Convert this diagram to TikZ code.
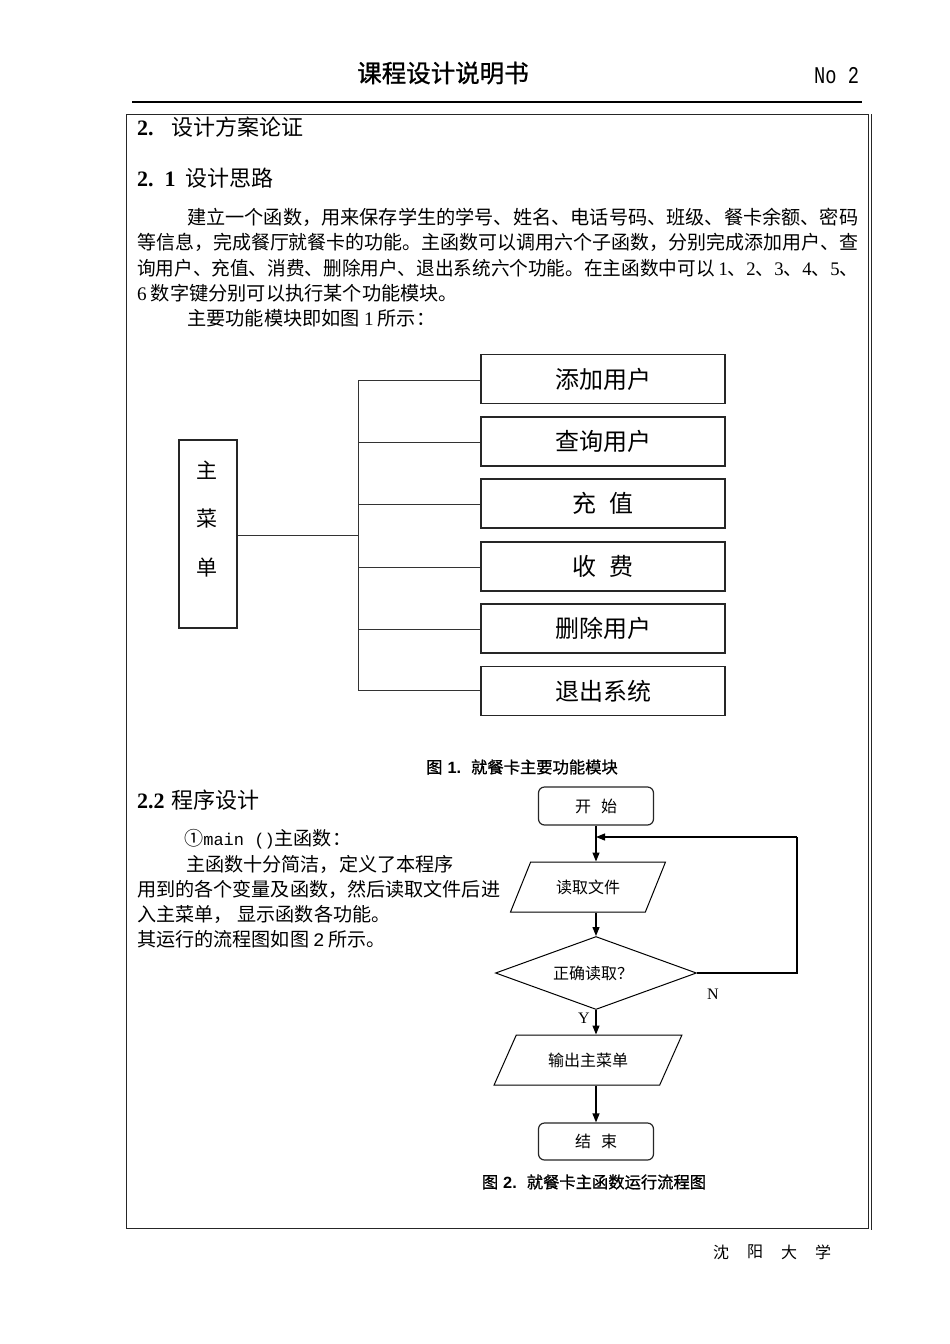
\documentclass[tikz,border=0pt]{standalone}
\usepackage{fontspec}
\usepackage{graphicx}
\setmainfont{Noto Sans CJK SC}
\newfontfamily\tms{Liberation Serif}
\newfontfamily\hel{Liberation Sans}
\newfontfamily\mon{Liberation Mono}
\newfontfamily\cjkb[FakeBold=1]{Noto Sans CJK SC}
\usetikzlibrary{shapes.geometric,arrows.meta}
\newcommand\myfs[1]{\fontsize{#1}{#1}\selectfont}
\newcommand\fitline[2]{\resizebox{#1}{\height}{#2}}
\tikzset{
  txt/.style={anchor=west,inner sep=0pt,font=\myfs{19.2}},
  txtb/.style={anchor=west,inner sep=0pt,font=\myfs{19.1}},
  head/.style={anchor=west,inner sep=0pt,font=\myfs{22}},
  modbox/.style={draw=black!85,line width=1.1pt,minimum width=244pt,minimum height=49pt,inner sep=0pt,font=\myfs{24}},
  tree/.style={draw=black!80,line width=1pt},
  term/.style={draw=black!85,line width=1.2pt,rounded corners=6pt,minimum width=115pt,minimum height=38pt,inner sep=0pt,font=\myfs{16}},
  io/.style={draw=black,line width=1pt,trapezium,trapezium stretches=true,minimum height=50pt,inner sep=0pt,font=\myfs{16}},
  arr/.style={draw=black,line width=1.2pt,-{Triangle[length=9pt,width=7pt]}},
  figcap/.style={inner sep=0pt,font=\myfs{16.3}\cjkb},
  foot/.style={inner sep=0pt,font=\myfs{16}},
}
\begin{document}
\begin{tikzpicture}[x=1pt,y=-1pt]
\path[fill=white] (0,0) rectangle (950,1344);
\useasboundingbox (0,0) rectangle (950,1344);
% header
\node[inner sep=0pt,font=\myfs{24.5}\cjkb] (title) at (443,73) {课程设计说明书};
\node[anchor=west,inner sep=0pt,font=\myfs{24}\mon] (no) at (814,76) {\scalebox{0.78}[1]{No 2}};
\draw[line width=1.5pt] (132,102) -- (862,102);
% frame
\draw[line width=1pt,black!85] (126,114) rectangle (868,1228);
\draw[line width=1pt,black!85] (871,114) -- (871,1230);
% headings
\node[head] (h1) at (137,127) {{\tms\bfseries 2.}\hspace{17.5pt}设计方案论证};
\node[head] (h2) at (137,178) {{\tms\bfseries 2.}\hspace{11pt}{\tms\bfseries 1}\hspace{9.5pt}设计思路};
% paragraph
\node[txt] (p1) at (187,217) {\fitline{671pt}{建立一个函数，用来保存学生的学号、姓名、电话号码、班级、餐卡余额、密码}};
\node[txt] (p2) at (137,242) {\fitline{721pt}{等信息，完成餐厅就餐卡的功能。主函数可以调用六个子函数，分别完成添加用户、查}};
\node[txt] (p3) at (137,268) {\fitline{721pt}{询用户、充值、消费、删除用户、退出系统六个功能。在主函数中可以\hspace{4pt}{\tms 1}、{\tms 2}、{\tms 3}、{\tms 4}、{\tms 5}、}};
\node[txt] (p4) at (137,293) {{\tms 6}\hspace{4pt}数字键分别可以执行某个功能模块。};
\node[txt] (p5) at (187,318) {主要功能模块即如图\hspace{4pt}{\tms 1}\hspace{4pt}所示：};
% tree diagram
\node[draw=black!85,line width=1.1pt,minimum width=58pt,minimum height=188pt,inner sep=0pt] (main) at (208,534) {};
\node[inner sep=0pt,font=\myfs{21}] (m1) at (207,470) {主};
\node[inner sep=0pt,font=\myfs{21}] (m2) at (207,519) {菜};
\node[inner sep=0pt,font=\myfs{21}] (m3) at (207,568) {单};
\node[modbox] (b1) at (603,379) {添加用户};
\node[modbox] (b2) at (603,441.5) {查询用户};
\node[modbox] (b3) at (603,503.5) {充\hspace{14pt}值};
\node[modbox] (b4) at (603,566.5) {收\hspace{14pt}费};
\node[modbox] (b5) at (603,628.5) {删除用户};
\node[modbox] (b6) at (603,691) {退出系统};
\coordinate (bus) at (358,535);
\draw[tree] (main.east |- bus) -- (bus);
\draw[tree] (358,380) -- (358,690);
\foreach \b/\yy in {b1/380,b2/442,b3/504,b4/567,b5/629,b6/690}{
  \draw[tree] (358,\yy) -- (\b.west |- 0,\yy);
}
\node[figcap] (c1) at (522,767) {图\hspace{5pt}{\hel\bfseries 1.}\hspace{10pt}就餐卡主要功能模块};
% section 2.2
\node[head] (h3) at (137,800) {{\tms\bfseries 2.2}\hspace{6.5pt}程序设计};
\node[txtb] (q1) at (184,839) {①{\myfs{17}\mon main ()}主函数：};
\node[txtb] (q2) at (186,864) {主函数十分简洁，定义了本程序};
\node[txtb] (q3) at (137,889) {用到的各个变量及函数，然后读取文件后进};
\node[txtb] (q4) at (137,914) {入主菜单，\hspace{5pt}显示函数各功能。};
\node[txtb] (q5) at (137,939) {其运行的流程图如图\hspace{4pt}{\mon 2}\hspace{4pt}所示。};
% flowchart
\node[term] (start) at (596,806) {开\hspace{10pt}始};
\node[io,trapezium left angle=53,trapezium right angle=127,minimum width=156pt] (read) at (588,887) {读取文件};
\node[draw=black,line width=1pt,diamond,aspect=2.75,minimum width=201pt,minimum height=73pt,inner sep=0pt,font=\myfs{16}] (dec) at (596,973) {\hspace{-6pt}正确读取？};
\node[io,trapezium left angle=50,trapezium right angle=130,minimum width=188pt] (out) at (588,1060) {输出主菜单};
\node[term,minimum height=37pt] (end) at (596,1141.5) {结\hspace{10pt}束};
\coordinate (j) at (596,837);
\coordinate (lp) at (797,837);
\draw[arr] (start.south) -- (start.south |- read.north);
\draw[arr] (start.south |- read.south) -- (dec.north);
\draw[arr] (dec.south) -- (dec.south |- out.north);
\draw[arr] (dec.south |- out.south) -- (end.north);
\draw[line width=1.2pt] (dec.east) -| (lp);
\draw[arr] (lp) -- (j);
\node[inner sep=0pt,font=\myfs{16}\tms] (N) at (713,994) {N};
\node[inner sep=0pt,font=\myfs{16}\tms] (Y) at (584,1018) {Y};
\node[figcap] (c2) at (594,1182) {图\hspace{5pt}{\hel\bfseries 2.}\hspace{10pt}就餐卡主函数运行流程图};
% footer
\node[foot] (f1) at (721,1252) {沈};
\node[foot] (f2) at (755,1252) {阳};
\node[foot] (f3) at (789,1252) {大};
\node[foot] (f4) at (823,1252) {学};
\end{tikzpicture}
\end{document}
